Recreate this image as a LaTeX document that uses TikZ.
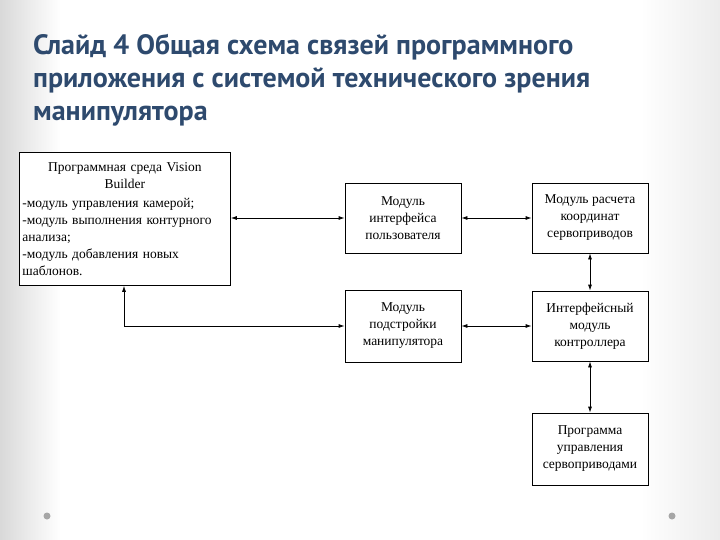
\documentclass[tikz,border=0pt]{standalone}
\usepackage{fontspec}
\setmainfont{Liberation Serif}
\newfontfamily\titlefont{PT Sans}
\usetikzlibrary{arrows.meta}
\definecolor{titleblue}{HTML}{2E4A6E}
\tikzset{
  box/.style={draw=black, line width=0.8pt, fill=white, align=center, inner sep=2pt, font=\fontsize{13.5}{17}\selectfont},
  link/.style={line width=0.8pt, {Latex[length=6pt,width=4pt]}-{Latex[length=6pt,width=4pt]}}
}
\begin{document}
\begin{tikzpicture}[x=1pt,y=-1pt]
\useasboundingbox (0,0) rectangle (720,540);
\shade[left color=gray!30, right color=white] (0,0) rectangle (60,540);
\fill[white] (60,0) rectangle (720,540);
\shade[left color=white, right color=gray!15] (640,0) rectangle (720,540);
\node[anchor=north west, align=left, text=titleblue, font=\titlefont\bfseries\fontsize{28}{33}\selectfont, inner sep=0pt] (title) at (33,34)
 {Слайд 4 Общая схема связей программного\\приложения с системой технического зрения\\манипулятора};
\node[box, anchor=north west, minimum width=211pt, minimum height=133pt, text width=205pt, align=left, inner sep=2pt] (vb) at (19,152)
 {\centering Программная среда Vision\\Builder\par
 \vspace{2pt}\raggedright -модуль управления камерой;\\-модуль выполнения контурного анализа;\\-модуль добавления новых шаблонов.};
\node[box, minimum width=116pt, minimum height=70pt] (ui) at (403,218) {Модуль\\интерфейса\\пользователя};
\node[box, minimum width=116pt, minimum height=70pt] (calc) at (590,218) {Модуль расчета\\координат\\сервоприводов};
\node[box, minimum width=116pt, minimum height=72pt] (adj) at (403,326) {Модуль\\подстройки\\манипулятора};
\node[box, minimum width=116pt, minimum height=70pt] (ctrl) at (590,326) {Интерфейсный\\модуль\\контроллера};
\node[box, minimum width=116pt, minimum height=72pt] (srv) at (590,449) {Программа\\управления\\сервоприводами};
\draw[link] (vb.east |- ui.west) -- (ui.west);
\coordinate (bend) at (124,326);
\draw[link] (vb.south -| bend) -- (bend) -- (adj.west);
\draw[link] (ui.east) -- (calc.west);
\draw[link] (adj.east) -- (ctrl.west);
\draw[link] (calc.south) -- (ctrl.north);
\draw[link] (ctrl.south) -- (srv.north);
\fill[gray!70] (47,516) circle (3.5pt) (672,516) circle (3.5pt);
\end{tikzpicture}
\end{document}
